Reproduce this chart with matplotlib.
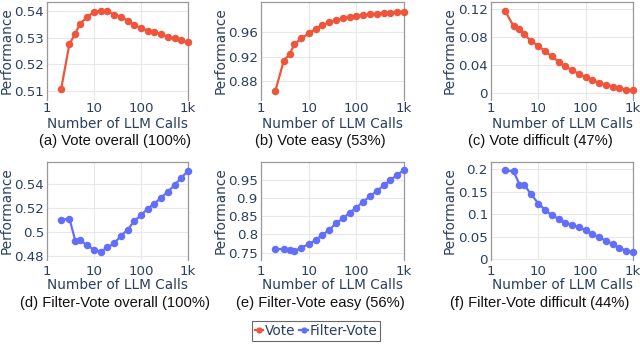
import matplotlib
matplotlib.use("Agg")
import matplotlib.pyplot as plt
from matplotlib.lines import Line2D

# ---------------- data ----------------
llm_calls = [2, 3, 4, 5, 7, 10, 14, 19, 27, 37, 52, 72, 100, 139, 193, 268, 373, 518, 720, 1000]

vote_overall = [0.5107, 0.5276, 0.5314, 0.5351, 0.5375, 0.5396, 0.5399, 0.5399, 0.5386, 0.5378,
                0.5363, 0.5347, 0.5335, 0.5325, 0.5319, 0.5314, 0.5302, 0.5298, 0.5289, 0.5282]
vote_easy = [0.8643, 0.9135, 0.9243, 0.9400, 0.9497, 0.9578, 0.9654, 0.9714, 0.9757, 0.9795,
             0.9827, 0.9849, 0.9865, 0.9881, 0.9892, 0.9903, 0.9914, 0.9919, 0.9930, 0.9935]
vote_difficult = [0.1172, 0.0958, 0.0912, 0.0842, 0.0749, 0.0679, 0.0600, 0.0530, 0.0451, 0.0386,
                  0.0330, 0.0279, 0.0233, 0.0186, 0.0153, 0.0126, 0.0098, 0.0074, 0.0056, 0.0047]
fv_overall = [0.5099, 0.5110, 0.4926, 0.4934, 0.4890, 0.4852, 0.4835, 0.4871, 0.4904, 0.4967,
              0.5017, 0.5091, 0.5138, 0.5193, 0.5234, 0.5284, 0.5333, 0.5388, 0.5449, 0.5504]
fv_easy = [0.7600, 0.7600, 0.7564, 0.7545, 0.7636, 0.7736, 0.7845, 0.7982, 0.8118, 0.8300,
           0.8436, 0.8591, 0.8736, 0.8891, 0.9045, 0.9182, 0.9345, 0.9482, 0.9636, 0.9755]
fv_difficult = [0.1977, 0.1962, 0.1660, 0.1660, 0.1449, 0.1238, 0.1094, 0.0981, 0.0898, 0.0808,
                0.0755, 0.0710, 0.0642, 0.0558, 0.0483, 0.0408, 0.0332, 0.0242, 0.0189, 0.0151]

x_ticks = [1, 10, 100, 1000]
x_tick_labels = ["1", "10", "100", "1k"]

y_ticks = [
    [0.51, 0.52, 0.53, 0.54],
    [0.88, 0.92, 0.96],
    [0, 0.04, 0.08, 0.12],
    [0.48, 0.50, 0.52, 0.54],
    [0.75, 0.80, 0.85, 0.90, 0.95],
    [0, 0.05, 0.10, 0.15, 0.20],
]
y_tick_labels = [
    ["0.51", "0.52", "0.53", "0.54"],
    ["0.88", "0.92", "0.96"],
    ["0", "0.04", "0.08", "0.12"],
    ["0.48", "0.5", "0.52", "0.54"],
    ["0.75", "0.8", "0.85", "0.9", "0.95"],
    ["0", "0.05", "0.1", "0.15", "0.2"],
]
captions = ["(a) Vote overall (100%)", "(b) Vote easy (53%)", "(c) Vote difficult (47%)",
            "(d) Filter-Vote overall (100%)", "(e) Filter-Vote easy (56%)", "(f) Filter-Vote difficult (44%)"]
series = [vote_overall, vote_easy, vote_difficult, fv_overall, fv_easy, fv_difficult]
series_names = ["Vote", "Filter-Vote"]
x_title = "Number of LLM Calls"
y_title = "Performance"

# ---------------- style ----------------
VOTE_C = "#EF553B"
FV_C = "#636EFA"
TXT = "#2a3f5f"
W, H = 640, 345
FS_TICK = 9.6
FS_TITLE = 9.8

ylims = [(0.5066, 0.5433), (0.8497, 1.0090), (-0.0093, 0.1302),
         (0.4767, 0.5579), (0.7300, 0.9982), (-0.0023, 0.2166)]
cols_px = [(47, 188), (261, 404), (491, 633)]
rows_px = [(2, 100), (162, 260)]
tick_pad = [1.5, 3.5]
xtitle_y = [124, 285]
cap_x = [115, 320, 540]
cap_y = [141, 303]
ylab_right = [14, 228, 457]

fig = plt.figure(figsize=(W / 100, H / 100), dpi=100)

for i in range(6):
    r, c = divmod(i, 3)
    x0, x1 = cols_px[c]
    y0, y1 = rows_px[r]
    ax = fig.add_axes([x0 / W, 1 - y1 / H, (x1 - x0) / W, (y1 - y0) / H])
    color = VOTE_C if r == 0 else FV_C
    ax.plot(llm_calls, series[i], color=color, lw=1.6, marker="o", ms=5.4,
            markeredgewidth=0, zorder=3, clip_on=False)
    ax.set_xscale("log")
    ax.set_xlim(1, 1000)
    ax.set_ylim(*ylims[i])
    ax.set_xticks(x_ticks)
    ax.set_xticklabels(x_tick_labels)
    ax.minorticks_off()
    ax.set_yticks(y_ticks[i])
    ax.set_yticklabels(y_tick_labels[i])
    ax.tick_params(length=0, labelsize=FS_TICK, labelcolor=TXT)
    ax.tick_params(axis="y", pad=2.2)
    ax.tick_params(axis="x", pad=tick_pad[r])
    ax.grid(True, color="#e8e8e8", lw=0.8, zorder=0)
    for s in ax.spines.values():
        s.set_color("#999999")
        s.set_linewidth(0.9)
    ax.spines["bottom"].set_visible(False)
    fig.text((x0 + x1) / 2 / W, 1 - xtitle_y[r] / H, x_title, fontsize=FS_TITLE,
             color=TXT, ha="center", va="center")
    fig.text(ylab_right[c] / W, 1 - ((y0 + y1) / 2) / H, y_title, rotation=90,
             fontsize=FS_TITLE, color=TXT, ha="right", va="center")
    fig.text(cap_x[c] / W, 1 - cap_y[r] / H, captions[i], fontsize=10.6,
             family="Liberation Sans", color="#111111", ha="center", va="center")

handles = [Line2D([0], [0], color=VOTE_C, lw=1.6, marker="o", ms=4.5, markeredgewidth=0),
           Line2D([0], [0], color=FV_C, lw=1.6, marker="o", ms=4.5, markeredgewidth=0)]
leg = fig.legend(handles, series_names, loc="center", bbox_to_anchor=(316 / W, 1 - 331 / H),
                 ncol=2, frameon=True, fancybox=False, fontsize=FS_TITLE, handlelength=0.6,
                 handletextpad=0.15, columnspacing=0.3, borderpad=0.2, borderaxespad=0)
leg.get_frame().set_edgecolor("#444444")
leg.get_frame().set_linewidth(0.8)
for t in leg.get_texts():
    t.set_color(TXT)

fig.savefig("out.png", dpi=100)
